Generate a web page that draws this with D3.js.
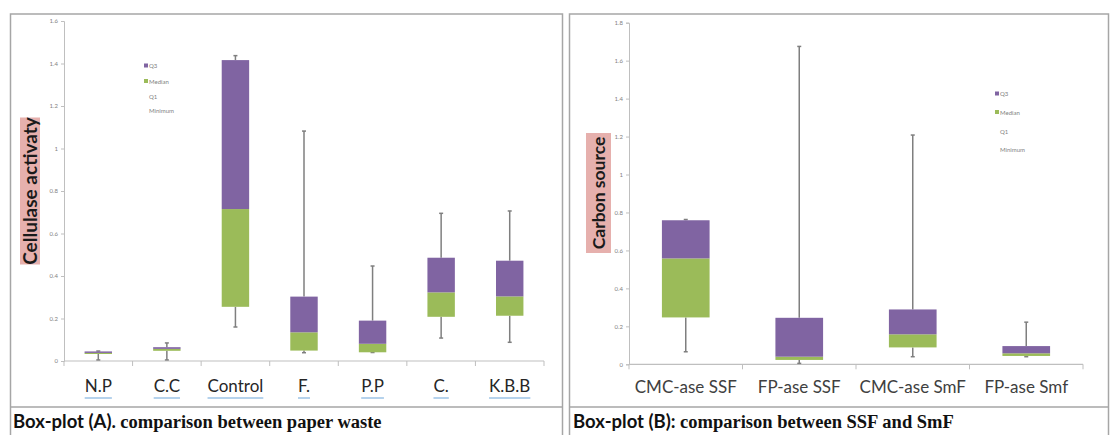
<!DOCTYPE html>
<html>
<head>
<meta charset="utf-8">
<script src="https://cdn.jsdelivr.net/npm/d3@7"></script>
<style>
  body { margin: 0; background: #fff; }
  svg { display: block; }
</style>
</head>
<body>
<div id="chart"></div>
<script>
// Panel A - paper waste
const catsA = ["N.P", "C.C", "Control", "F.", "P.P", "C.", "K.B.B"];
const minA = [0.005, 0.005, 0.16, 0.039, 0.04, 0.108, 0.088];
const q1A  = [0.033, 0.048, 0.255, 0.049, 0.041, 0.208, 0.213];
const medA = [0.038, 0.057, 0.715, 0.135, 0.081, 0.323, 0.304];
const q3A  = [0.045, 0.065, 1.416, 0.303, 0.19, 0.486, 0.472];
const maxA = [0.047, 0.085, 1.437, 1.082, 0.447, 0.695, 0.706];
const ticksA = [0, 0.2, 0.4, 0.6, 0.8, 1, 1.2, 1.4, 1.6];

// Panel B - SSF vs SmF
const catsB = ["CMC-ase SSF", "FP-ase SSF", "CMC-ase SmF", "FP-ase Smf"];
const minB = [0.066, 0.005, 0.04, 0.04];
const q1B  = [0.247, 0.023, 0.089, 0.044];
const medB = [0.558, 0.04, 0.158, 0.058];
const q3B  = [0.759, 0.245, 0.289, 0.096];
const maxB = [0.763, 1.675, 1.208, 0.222];
const ticksB = [0, 0.2, 0.4, 0.6, 0.8, 1, 1.2, 1.4, 1.6, 1.8];

const legendNames = ["Q3", "Median", "Q1", "Minimum"];

const purple = "#8064a2", green = "#9bbb59", whisk = "#7f7f7f";

const svg = d3.select("#chart").append("svg")
    .attr("width", 1111)
    .attr("height", 435);

// panel frames
function frame(x0, x1) {
    const g = svg.append("g").attr("fill", "none").attr("stroke", "#a6a6a6").attr("stroke-width", 1.5);
    g.append("path").attr("d", `M${x0},435 V14 H${x1} V435`);
    g.append("line").attr("x1", x0).attr("x2", x1).attr("y1", 407).attr("y2", 407);
}
frame(10.5, 562.5);
frame(569.5, 1108.5);

function drawPanel(opt) {
    const { cats, mins, q1, med, q3, maxs, ticks, x0, x1, y0, yTop, yMax, boxFrac } = opt;
    const y = d3.scaleLinear().domain([0, yMax]).range([y0, yTop]);
    const x = d3.scaleBand().domain(cats).range([x0, x1]).paddingInner(0).paddingOuter(0);
    const g = svg.append("g");

    // y axis
    const yAxis = g.append("g")
        .attr("transform", `translate(${x0},0)`)
        .call(d3.axisLeft(y).tickValues(ticks).tickSize(3).tickFormat(d3.format("")));
    yAxis.select(".domain").attr("stroke", "#bfbfbf");
    yAxis.selectAll(".tick line").attr("stroke", "#bfbfbf");
    yAxis.selectAll("text").attr("fill", "#7f7f7f").attr("font-size", 6)
        .attr("font-family", "Lato, sans-serif");

    // x axis line with ticks at category boundaries
    g.append("line").attr("x1", x0).attr("x2", x1).attr("y1", y0).attr("y2", y0)
        .attr("stroke", "#bfbfbf").attr("stroke-width", 1.2);
    g.selectAll(".xt").data(cats.concat(["end"])).join("line")
        .attr("x1", (d, i) => i < cats.length ? x(d) : x1)
        .attr("x2", (d, i) => i < cats.length ? x(d) : x1)
        .attr("y1", y0).attr("y2", y0 + 5)
        .attr("stroke", "#bfbfbf");

    const bw = x.bandwidth() * boxFrac;
    const cx = d => x(d) + x.bandwidth() / 2;

    // whiskers (error bars)
    const wg = g.append("g").attr("stroke", whisk).attr("stroke-width", 1.5);
    cats.forEach((c, i) => {
        wg.append("line").attr("x1", cx(c)).attr("x2", cx(c)).attr("y1", y(maxs[i])).attr("y2", y(q3[i]));
        wg.append("line").attr("x1", cx(c)).attr("x2", cx(c)).attr("y1", y(q1[i])).attr("y2", y(mins[i]));
        wg.append("line").attr("x1", cx(c) - 2).attr("x2", cx(c) + 2).attr("y1", y(maxs[i])).attr("y2", y(maxs[i]));
        wg.append("line").attr("x1", cx(c) - 2).attr("x2", cx(c) + 2).attr("y1", y(mins[i])).attr("y2", y(mins[i]));
    });

    // stacked boxes: median-Q1 (green), Q3-median (purple)
    g.selectAll(".lo").data(cats).join("rect")
        .attr("x", d => cx(d) - bw / 2).attr("width", bw)
        .attr("y", (d, i) => y(med[i])).attr("height", (d, i) => y(q1[i]) - y(med[i]))
        .attr("fill", green);
    g.selectAll(".hi").data(cats).join("rect")
        .attr("x", d => cx(d) - bw / 2).attr("width", bw)
        .attr("y", (d, i) => y(q3[i])).attr("height", (d, i) => y(med[i]) - y(q3[i]))
        .attr("fill", purple);

    return { g, x, y, cx };
}

// ---- Panel A
const pA = drawPanel({ cats: catsA, mins: minA, q1: q1A, med: medA, q3: q3A, maxs: maxA,
    ticks: ticksA, x0: 64, x1: 544, y0: 361, yTop: 21, yMax: 1.6, boxFrac: 0.4 });

pA.g.selectAll(".cl").data(catsA).join("text")
    .attr("x", d => pA.cx(d)).attr("y", 392)
    .attr("text-anchor", "middle")
    .attr("font-family", "Lato, sans-serif").attr("font-size", 17)
    .attr("fill", "#262626")
    .text(d => d)
    .each(function () {
        const b = this.getBBox();
        pA.g.append("line").attr("x1", b.x).attr("x2", b.x + b.width)
            .attr("y1", 398).attr("y2", 398)
            .attr("stroke", "#9dc3e6").attr("stroke-width", 1.5);
    });

// ---- Panel B
const pB = drawPanel({ cats: catsB, mins: minB, q1: q1B, med: medB, q3: q3B, maxs: maxB,
    ticks: ticksB, x0: 629, x1: 1083, y0: 364.3, yTop: 22.7, yMax: 1.8, boxFrac: 0.42 });

pB.g.selectAll(".cl").data(catsB).join("text")
    .attr("x", d => pB.cx(d)).attr("y", 393)
    .attr("text-anchor", "middle")
    .attr("font-family", "Lato, sans-serif").attr("font-size", 17)
    .attr("fill", "#404040")
    .text(d => d);

// legends
function legend(x, ys) {
    const lg = svg.append("g").attr("font-family", "Lato, sans-serif").attr("font-size", 6).attr("fill", "#7f7f7f");
    legendNames.forEach((n, i) => {
        if (i < 2) {
            lg.append("rect").attr("x", x).attr("y", ys[i] - 2.5).attr("width", 4).attr("height", 4)
                .attr("fill", i === 0 ? purple : green);
        }
        lg.append("text").attr("x", x + 5).attr("y", ys[i] + 2).text(n);
    });
}
legend(144, [66, 81.5, 96.5, 111]);
legend(995, [94, 112.5, 131.5, 150]);

// axis titles with pink highlight
function yTitle(cx, cy, w, h, size, label) {
    svg.append("rect").attr("x", cx - w / 2).attr("y", cy - h / 2).attr("width", w).attr("height", h)
        .attr("fill", "#e6b0ad");
    svg.append("text")
        .attr("transform", `translate(${cx + 6.5},${cy}) rotate(-90)`)
        .attr("text-anchor", "middle")
        .attr("font-family", "Lato, sans-serif").attr("font-weight", "bold").attr("font-size", size)
        .attr("fill", "#1a1a1a")
        .text(label);
}
yTitle(30, 191, 20, 147, 19, "Cellulase activaty");
yTitle(598.5, 193, 25, 120, 17.5, "Carbon source");

// captions
function caption(x, a, b) {
    const t = svg.append("text").attr("x", x).attr("y", 428).attr("font-size", 18.5).attr("fill", "#111");
    t.append("tspan").attr("font-family", "Lato, sans-serif").attr("font-weight", "bold").text(a);
    t.append("tspan").attr("font-family", "'Liberation Serif', serif").attr("font-weight", "bold").text(b);
}
caption(13, "Box-plot (A). ", "comparison between paper waste");
caption(573, "Box-plot (B): ", "comparison between SSF and SmF");
</script>
</body>
</html>
